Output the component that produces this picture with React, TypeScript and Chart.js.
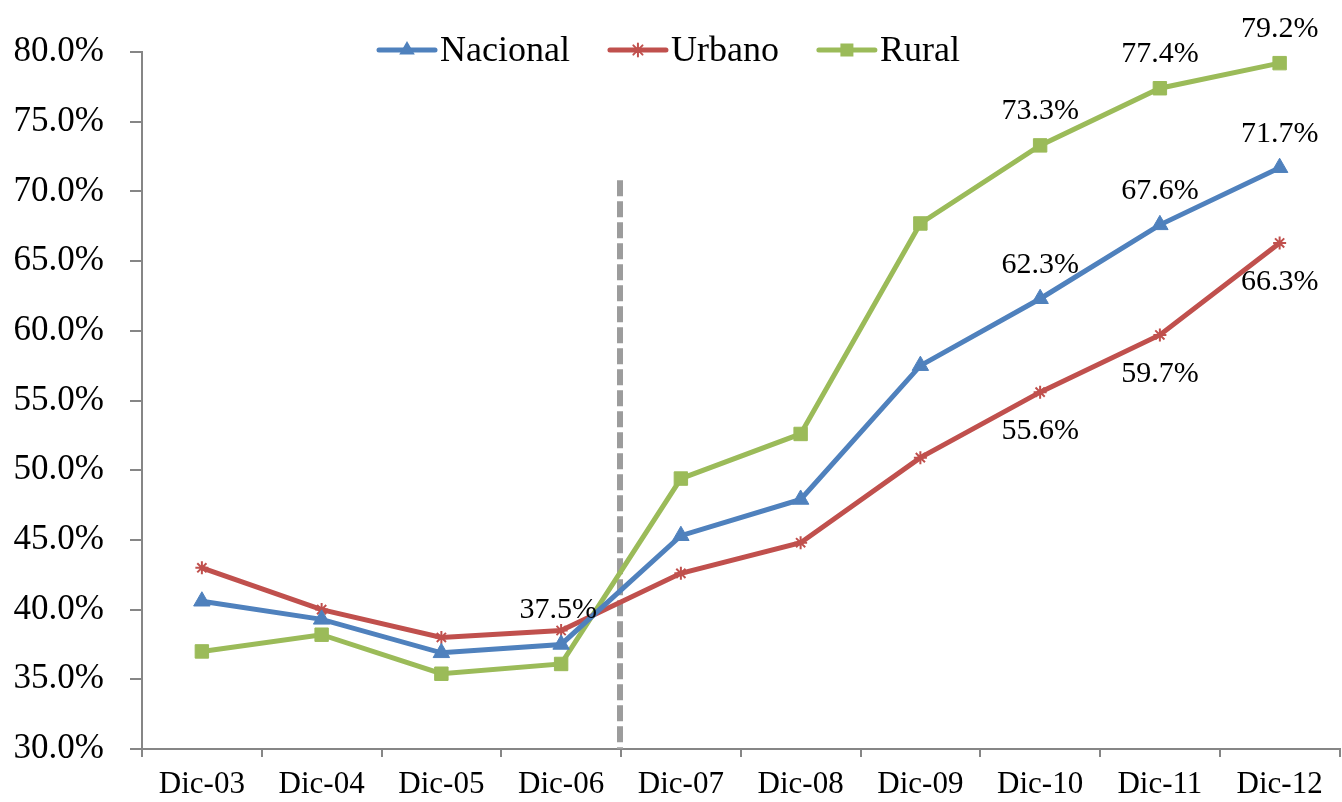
import React, { useEffect, useRef } from "react";
import { Chart, registerables } from "chart.js";

Chart.register(...registerables);

const categories = ["Dic-03", "Dic-04", "Dic-05", "Dic-06", "Dic-07", "Dic-08", "Dic-09", "Dic-10", "Dic-11", "Dic-12"];
const nacional = [40.6, 39.3, 36.9, 37.5, 45.3, 47.9, 57.5, 62.3, 67.6, 71.7];
const urbano = [43.0, 40.0, 38.0, 38.5, 42.6, 44.8, 50.9, 55.6, 59.7, 66.3];
const rural = [37.0, 38.2, 35.4, 36.1, 49.4, 52.6, 67.7, 73.3, 77.4, 79.2];
const seriesNames = ["Nacional", "Urbano", "Rural"];
const seriesColors = ["#4F81BD", "#C0504D", "#9BBB59"];
const seriesPointStyles = ["triangle", "star", "rect"];
// which points carry value labels and where (above / below)
const nacionalLabelIdx = [3, 7, 8, 9];
const urbanoLabelIdx = [7, 8, 9];
const ruralLabelIdx = [7, 8, 9];
const labelPlacement = ["above", "below", "above"];
const yMin = 30;
const yMax = 80;
const yStep = 5;
const dividerAfterIndex = 3; // between Dic-06 and Dic-07
const dividerTopValue = 70.8;

const FONT = "'Liberation Serif', 'Times New Roman', serif";

function drawMarker(ctx: CanvasRenderingContext2D, style: string, x: number, y: number, color: string) {
  ctx.save();
  ctx.fillStyle = color;
  ctx.strokeStyle = color;
  if (style === "triangle") {
    const r = 9;
    ctx.beginPath();
    ctx.moveTo(x, y - r);
    ctx.lineTo(x + r * 0.866, y + r * 0.5);
    ctx.lineTo(x - r * 0.866, y + r * 0.5);
    ctx.closePath();
    ctx.fill();
  } else if (style === "rect") {
    const s = 6.5;
    ctx.fillRect(x - s, y - s, 2 * s, 2 * s);
  } else {
    const r = 6.5;
    ctx.lineWidth = 2;
    ctx.beginPath();
    for (let k = 0; k < 4; k++) {
      const a = (k * Math.PI) / 4;
      ctx.moveTo(x - r * Math.cos(a), y - r * Math.sin(a));
      ctx.lineTo(x + r * Math.cos(a), y + r * Math.sin(a));
    }
    ctx.stroke();
  }
  ctx.restore();
}

const overlayPlugin = {
  id: "overlay",
  beforeDatasetsDraw(chart: any) {
    const ctx: CanvasRenderingContext2D = chart.ctx;
    const xs = chart.scales.x;
    const ys = chart.scales.y;
    const xd = (xs.getPixelForValue(dividerAfterIndex) + xs.getPixelForValue(dividerAfterIndex + 1)) / 2 - 1;
    ctx.save();
    ctx.strokeStyle = "#9C9C9C";
    ctx.lineWidth = 6;
    ctx.setLineDash([16, 5]);
    ctx.beginPath();
    ctx.moveTo(xd, ys.getPixelForValue(dividerTopValue));
    ctx.lineTo(xd, ys.getPixelForValue(yMin));
    ctx.stroke();
    ctx.restore();
  },
  afterDatasetsDraw(chart: any) {
    const ctx: CanvasRenderingContext2D = chart.ctx;
    const labelSets = [nacionalLabelIdx, urbanoLabelIdx, ruralLabelIdx];
    const valueSets = [nacional, urbano, rural];
    ctx.save();
    ctx.fillStyle = "#000";
    ctx.font = `30px ${FONT}`;
    ctx.textAlign = "center";
    ctx.textBaseline = "middle";
    labelSets.forEach((idxs, d) => {
      const meta = chart.getDatasetMeta(d);
      idxs.forEach((i) => {
        const pt = meta.data[i];
        const dy = labelPlacement[d] === "above" ? -34 : 39;
        ctx.fillText(valueSets[d][i].toFixed(1) + "%", pt.x - (d === 0 && i === 3 ? 3 : 0), pt.y + dy);
      });
    });
    ctx.restore();
  },
  afterDraw(chart: any) {
    const ctx: CanvasRenderingContext2D = chart.ctx;
    ctx.save();
    ctx.font = `36px ${FONT}`;
    ctx.textBaseline = "middle";
    ctx.textAlign = "left";
    let x = 379;
    const y = 50;
    seriesNames.forEach((name, d) => {
      ctx.strokeStyle = seriesColors[d];
      ctx.lineWidth = 5;
      ctx.lineCap = "round";
      ctx.beginPath();
      ctx.moveTo(x, y);
      ctx.lineTo(x + 56, y);
      ctx.stroke();
      drawMarker(ctx, seriesPointStyles[d], x + 28, y, seriesColors[d]);
      ctx.fillStyle = "#000";
      ctx.fillText(name, x + 61, y + 2);
      x += 61 + ctx.measureText(name).width + 40;
    });
    ctx.restore();
  },
};

export default function App() {
  const canvasRef = useRef<HTMLCanvasElement | null>(null);

  useEffect(() => {
    if (!canvasRef.current) return;
    const values = [nacional, urbano, rural];
    const chart = new Chart(canvasRef.current, {
      type: "line",
      data: {
        labels: categories,
        datasets: seriesNames.map((name, d) => ({
          label: name,
          data: values[d],
          borderColor: seriesColors[d],
          backgroundColor: seriesColors[d],
          borderWidth: 5,
          pointStyle: seriesPointStyles[d] as any,
          pointRadius: d === 1 ? 6.5 : d === 2 ? 9.5 : 9.5,
          pointBorderWidth: d === 1 ? 2 : 1,
          pointBackgroundColor: seriesColors[d],
          pointBorderColor: seriesColors[d],
          tension: 0,
        })),
      },
      options: {
        animation: false,
        responsive: false,
        devicePixelRatio: 1,
        layout: { padding: { top: 52, left: 0, right: 0, bottom: 0 } },
        plugins: { legend: { display: false }, tooltip: { enabled: false } },
        scales: {
          x: {
            offset: true,
            grid: { offset: true, drawOnChartArea: false, drawTicks: true, tickLength: 8, color: "#868686", lineWidth: 2 },
            border: { display: true, color: "#868686", width: 2 },
            ticks: { color: "#000", font: { family: FONT, size: 31 }, padding: 9, maxRotation: 0, autoSkip: false },
            afterFit: (s: any) => {
              s.height = 53;
            },
          },
          y: {
            min: yMin,
            max: yMax,
            grid: { drawOnChartArea: false, drawTicks: true, tickLength: 12, color: "#868686", lineWidth: 2 },
            border: { display: true, color: "#868686", width: 2 },
            ticks: {
              stepSize: yStep,
              color: "#000",
              font: { family: FONT, size: 35 },
              padding: 26,
              callback: (v: any) => Number(v).toFixed(1) + "%",
            },
            afterFit: (s: any) => {
              s.width = 142;
            },
          },
        },
      },
      plugins: [overlayPlugin],
    });
    return () => chart.destroy();
  }, []);

  return (
    <div style={{ position: "fixed", left: 0, top: 0, width: 1342, height: 802, overflow: "hidden", background: "#fff" }}>
      <canvas ref={canvasRef} width={1350} height={802} style={{ display: "block" }} />
    </div>
  );
}
